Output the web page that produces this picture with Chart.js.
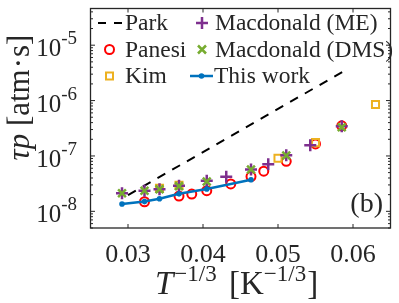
<!DOCTYPE html>
<html>
<head>
<meta charset="utf-8">
<script src="https://cdn.jsdelivr.net/npm/chart.js@4.4.1/dist/chart.umd.min.js"></script>
<style>
html, body { margin: 0; padding: 0; background: #fff; }
</style>
</head>
<body>
<canvas id="chart" width="399" height="303"></canvas>
<script>
// values
const parkX = [0.0300, 0.0586];
const parkY = [1.96e-8, 3.3e-6];

const panesiX = [0.0322, 0.0368, 0.0385, 0.0405, 0.0437, 0.0464, 0.0481, 0.0511, 0.0550, 0.0585];
const panesiY = [1.49e-8, 1.89e-8, 2.05e-8, 2.36e-8, 3.13e-8, 4.24e-8, 5.3e-8, 8.0e-8, 1.65e-7, 3.5e-7];

const kimX = [0.0342, 0.0368, 0.0500, 0.0550, 0.0630];
const kimY = [2.6e-8, 2.95e-8, 9.1e-8, 1.74e-7, 8.5e-7];

const meX = [0.0292, 0.0322, 0.0342, 0.0368, 0.0405, 0.0431, 0.0464, 0.0487, 0.0511, 0.0543, 0.0585];
const meY = [2.12e-8, 2.35e-8, 2.5e-8, 2.9e-8, 3.55e-8, 4.2e-8, 5.7e-8, 7.1e-8, 1.03e-7, 1.56e-7, 3.45e-7];

const dmsX = [0.0292, 0.0322, 0.0342, 0.0368, 0.0405, 0.0464, 0.0511, 0.0585];
const dmsY = [2.12e-8, 2.35e-8, 2.5e-8, 2.85e-8, 3.45e-8, 5.7e-8, 1.02e-7, 3.3e-7];

const thisX = [0.0292, 0.0322, 0.0342, 0.0368, 0.0405, 0.0464];
const thisY = [1.36e-8, 1.50e-8, 1.69e-8, 2.07e-8, 2.54e-8, 3.71e-8];

const xTicks = [0.03, 0.04, 0.05, 0.06];
const xTickLabels = ['0.03', '0.04', '0.05', '0.06'];
const yTickExps = [-8, -7, -6, -5];

const serif = '"Liberation Serif", "Times New Roman", serif';
const axisColor = '#262626';

const toPts = (xs, ys) => xs.map((x, i) => ({ x: x, y: ys[i] }));

/* ===========================
   FRAME, LABELS, LEGEND
=========================== */

// run = [text, size, italic, rise, gapAfter]
function drawRuns(ctx, runs, x, y) {
    let cx = x;
    runs.forEach(r => {
        ctx.font = (r[2] ? 'italic ' : '') + r[1] + 'px ' + serif;
        ctx.fillText(r[0], cx, y - (r[3] || 0));
        cx += ctx.measureText(r[0]).width + (r[4] || 0);
    });
    return cx - x;
}

function runsWidth(ctx, runs) {
    let w = 0;
    runs.forEach(r => {
        ctx.font = (r[2] ? 'italic ' : '') + r[1] + 'px ' + serif;
        w += ctx.measureText(r[0]).width + (r[4] || 0);
    });
    return w;
}

const framePlugin = {
    id: 'frame',
    afterDraw(chart) {
        const ctx = chart.ctx;
        const a = chart.chartArea;
        const xs = chart.scales.x;
        const ys = chart.scales.y;

        ctx.save();
        ctx.strokeStyle = axisColor;
        ctx.lineWidth = 1.3;
        ctx.strokeRect(a.left, a.top, a.right - a.left, a.bottom - a.top);

        ctx.lineWidth = 1;
        ctx.beginPath();
        xTicks.forEach(v => {
            const px = xs.getPixelForValue(v);
            ctx.moveTo(px, a.bottom); ctx.lineTo(px, a.bottom - 4);
            ctx.moveTo(px, a.top); ctx.lineTo(px, a.top + 4);
        });
        for (let e = -9; e <= -5; e++) {
            for (let k = 1; k <= 9; k++) {
                const v = k * Math.pow(10, e);
                if (v < ys.min || v > ys.max) continue;
                const py = ys.getPixelForValue(v);
                const len = k === 1 ? 4.5 : 2.5;
                ctx.moveTo(a.left, py); ctx.lineTo(a.left + len, py);
                ctx.moveTo(a.right, py); ctx.lineTo(a.right - len, py);
            }
        }
        ctx.stroke();

        ctx.fillStyle = axisColor;
        ctx.textBaseline = 'alphabetic';

        // x tick labels
        ctx.textAlign = 'center';
        ctx.font = '26px ' + serif;
        xTicks.forEach((v, i) => {
            ctx.fillText(xTickLabels[i], xs.getPixelForValue(v), 262);
        });

        // y tick labels 10^n
        ctx.textAlign = 'left';
        yTickExps.forEach(e => {
            const py = ys.getPixelForValue(Math.pow(10, e));
            const runs = [['10', 25, false, 0], ['-' + Math.abs(e), 19, false, 12]];
            const w = runsWidth(ctx, runs);
            drawRuns(ctx, runs, 77 - w, py + 11);
        });

        // x title
        const xt = [['T', 33, true, 0, 1], ['\u22121/3', 23, false, 13, 0], [' ', 33, false, 0, 4],
                    ['[', 33, false, 0], ['K', 33, false, 0], ['\u22121/3', 23, false, 13, 1], [']', 33, false, 0]];
        drawRuns(ctx, xt, 155, 294);

        // y title
        ctx.save();
        ctx.translate(29, 97.5);
        ctx.rotate(-Math.PI / 2);
        const yt = [['\u03c4p', 31, true, 0, 0], [' [atm', 31, false, 0, 1], ['\u00b7', 31, false, 0, 1],
                    ['s]', 31, false, 0]];
        const yw = runsWidth(ctx, yt);
        drawRuns(ctx, yt, -yw / 2, 0);
        ctx.restore();

        // panel tag
        ctx.font = '28px ' + serif;
        ctx.textAlign = 'right';
        ctx.fillText('(b)', 383, 212);

        // legend
        ctx.textAlign = 'left';
        ctx.textBaseline = 'middle';
        ctx.font = '23.5px ' + serif;
        const rows = [23, 49.5, 76];
        const c1 = 109.5, c2 = 202;

        // Park
        ctx.save();
        ctx.strokeStyle = '#000';
        ctx.lineWidth = 2;
        ctx.setLineDash([8, 8]);
        ctx.beginPath(); ctx.moveTo(98, rows[0]); ctx.lineTo(124, rows[0]); ctx.stroke();
        ctx.restore();
        ctx.fillText('Park', 125, rows[0] + 1);

        // Panesi
        ctx.strokeStyle = '#ff0000';
        ctx.lineWidth = 2;
        ctx.beginPath(); ctx.arc(c1, rows[1], 4.5, 0, Math.PI * 2); ctx.stroke();
        ctx.fillText('Panesi', 125, rows[1] + 1);

        // Kim
        ctx.strokeStyle = '#EDB120';
        ctx.strokeRect(c1 - 3.5, rows[2] - 3.5, 7, 7);
        ctx.fillText('Kim', 125, rows[2] + 1);

        // ME
        ctx.strokeStyle = '#7E2F8E';
        ctx.lineWidth = 2.5;
        ctx.beginPath();
        ctx.moveTo(c2 - 6, rows[0]); ctx.lineTo(c2 + 6, rows[0]);
        ctx.moveTo(c2, rows[0] - 6); ctx.lineTo(c2, rows[0] + 6);
        ctx.stroke();
        ctx.fillText('Macdonald (ME)', 215, rows[0] + 1);

        // DMS
        ctx.strokeStyle = '#77AC30';
        ctx.beginPath();
        ctx.moveTo(c2 - 4, rows[1] - 4); ctx.lineTo(c2 + 4, rows[1] + 4);
        ctx.moveTo(c2 - 4, rows[1] + 4); ctx.lineTo(c2 + 4, rows[1] - 4);
        ctx.stroke();
        ctx.fillText('Macdonald (DMS)', 215, rows[1] + 1);

        // This work
        ctx.strokeStyle = '#0072BD';
        ctx.fillStyle = '#0072BD';
        ctx.lineWidth = 2.5;
        ctx.beginPath(); ctx.moveTo(190, rows[2]); ctx.lineTo(213, rows[2]); ctx.stroke();
        ctx.beginPath(); ctx.arc(201.5, rows[2], 2.8, 0, Math.PI * 2); ctx.fill();
        ctx.fillStyle = axisColor;
        ctx.fillText('This work', 214, rows[2] + 1);

        ctx.restore();
    }
};

/* ===========================
   CHART
=========================== */

const chart = new Chart(document.getElementById('chart'), {
    type: 'scatter',
    data: {
        datasets: [
            {
                label: 'Park',
                data: toPts(parkX, parkY),
                showLine: true,
                borderColor: '#000000',
                borderWidth: 2,
                borderDash: [9, 8],
                pointRadius: 0,
                order: 6
            },
            {
                label: 'Panesi',
                data: toPts(panesiX, panesiY),
                pointStyle: 'circle',
                pointRadius: 4.5,
                pointBorderWidth: 2,
                pointBorderColor: '#ff0000',
                pointBackgroundColor: 'rgba(0,0,0,0)',
                order: 5
            },
            {
                label: 'Kim',
                data: toPts(kimX, kimY),
                pointStyle: 'rect',
                pointRadius: 5,
                pointBorderWidth: 2,
                pointBorderColor: '#EDB120',
                pointBackgroundColor: 'rgba(0,0,0,0)',
                order: 4
            },
            {
                label: 'Macdonald (ME)',
                data: toPts(meX, meY),
                pointStyle: 'cross',
                pointRadius: 6,
                pointBorderWidth: 2.5,
                pointBorderColor: '#7E2F8E',
                order: 3
            },
            {
                label: 'Macdonald (DMS)',
                data: toPts(dmsX, dmsY),
                pointStyle: 'crossRot',
                pointRadius: 5.5,
                pointBorderWidth: 2.5,
                pointBorderColor: '#77AC30',
                order: 2
            },
            {
                label: 'This work',
                data: toPts(thisX, thisY),
                showLine: true,
                borderColor: '#0072BD',
                borderWidth: 2.5,
                pointRadius: 2.8,
                pointBorderWidth: 0,
                pointBackgroundColor: '#0072BD',
                order: 1
            }
        ]
    },
    options: {
        responsive: false,
        animation: false,
        layout: {
            padding: { left: 90.5, right: 5.5, top: 1.5, bottom: 75 }
        },
        plugins: {
            legend: { display: false },
            tooltip: { enabled: false }
        },
        scales: {
            x: {
                type: 'linear',
                display: false,
                min: 0.025,
                max: 0.065
            },
            y: {
                type: 'logarithmic',
                display: false,
                min: 5e-9,
                max: 4.6e-5
            }
        }
    },
    plugins: [framePlugin]
});
</script>
</body>
</html>
